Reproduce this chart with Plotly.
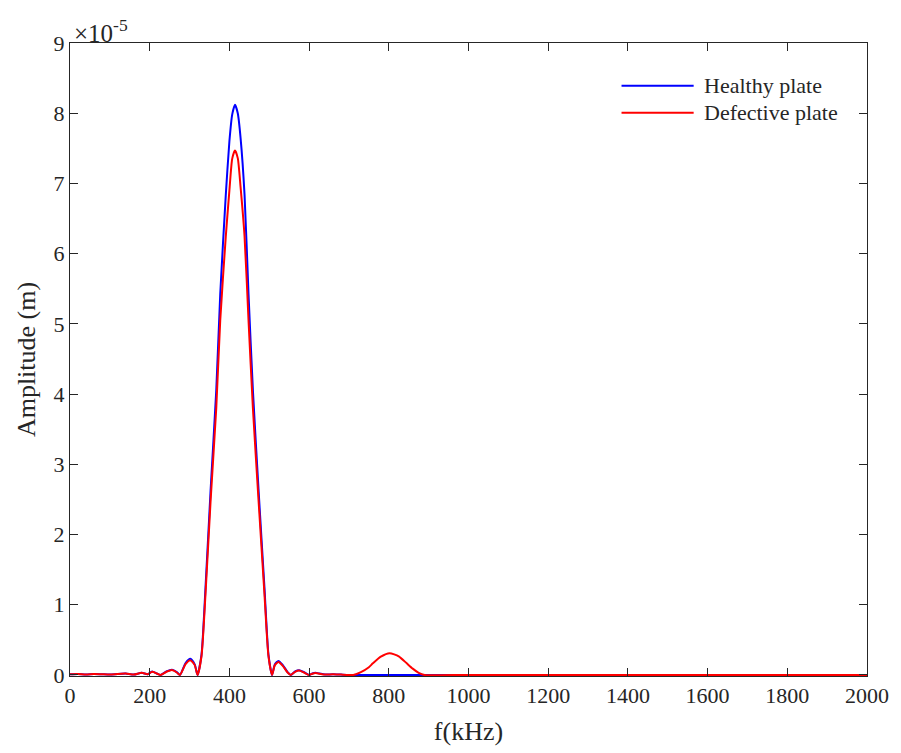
import plotly.graph_objects as go

# Frequency (kHz) and amplitude (x 1e-5 m)
f_healthy = [0, 20, 40, 60, 80, 100, 120, 140, 160, 180, 195, 206, 218, 227, 242, 256, 268, 276,
             290, 302, 313, 320, 330, 340, 353, 367, 377, 391, 400, 407, 414, 421, 428, 438, 448,
             459, 473, 488, 498, 507, 514, 523, 534, 546, 554, 565, 575, 587, 600, 608, 616, 626,
             640, 660, 680, 700, 1000, 1500, 2000]
amp_healthy = [0.01, 0.015, 0.005, 0.015, 0.01, 0.005, 0.015, 0.02, 0.005, 0.03, 0.01, 0.05, 0.02,
               0.0, 0.05, 0.075, 0.04, 0.0, 0.17, 0.23, 0.15, 0.0, 0.29, 1.24, 2.65, 4.05, 5.42,
               6.84, 7.6, 7.98, 8.12, 8.0, 7.65, 6.84, 5.42, 4.05, 2.65, 1.24, 0.29, 0.0, 0.15,
               0.20, 0.14, 0.04, 0.0, 0.05, 0.067, 0.04, 0.0, 0.02, 0.03, 0.02, 0.005, 0.01,
               0.005, 0.0, 0.0, 0.0, 0.0]

f_defective = [0, 20, 40, 60, 80, 100, 120, 140, 160, 180, 195, 206, 218, 227, 242, 256, 268, 276,
               290, 302, 313, 320, 330, 340, 353, 367, 377, 391, 400, 407, 414, 421, 428, 438, 448,
               459, 473, 488, 498, 507, 514, 523, 534, 546, 554, 565, 575, 587, 600, 608, 616, 626,
               640, 660, 680, 700, 711, 730, 750, 760, 780, 802, 825, 845, 860, 875, 890, 1000,
               1500, 2000]
amp_defective = [0.01, 0.015, 0.005, 0.015, 0.01, 0.005, 0.015, 0.02, 0.005, 0.03, 0.01, 0.045,
                 0.02, 0.0, 0.045, 0.07, 0.035, 0.0, 0.155, 0.21, 0.14, 0.0, 0.27, 1.15, 2.5, 3.8,
                 5.05, 6.25, 6.9, 7.35, 7.47, 7.36, 6.95, 6.25, 5.05, 3.8, 2.5, 1.15, 0.27, 0.0,
                 0.14, 0.185, 0.13, 0.035, 0.0, 0.045, 0.062, 0.035, 0.0, 0.018, 0.028, 0.018,
                 0.005, 0.01, 0.005, 0.0, 0.0, 0.04, 0.11, 0.165, 0.26, 0.31, 0.265, 0.165, 0.09,
                 0.03, 0.0, 0.0, 0.0, 0.0]

x_ticks = [0, 200, 400, 600, 800, 1000, 1200, 1400, 1600, 1800, 2000]
y_ticks = [0, 1, 2, 3, 4, 5, 6, 7, 8, 9]

FONT = "Liberation Serif"
AX = "#262626"

fig = go.Figure()
fig.add_trace(go.Scatter(x=f_healthy, y=amp_healthy, mode="lines", name="Healthy plate",
                         line=dict(color="#0000ff", width=2, shape="spline", smoothing=0.6)))
fig.add_trace(go.Scatter(x=f_defective, y=amp_defective, mode="lines", name="Defective plate",
                         line=dict(color="#ff0000", width=2, shape="spline", smoothing=0.6)))

axis_common = dict(showline=True, linecolor=AX, linewidth=1, mirror="ticks", ticks="inside",
                   ticklen=8, tickcolor=AX, tickwidth=1, showgrid=False, zeroline=False,
                   tickfont=dict(family=FONT, size=22, color=AX))

fig.update_xaxes(range=[0, 2000], tickvals=x_ticks, ticktext=[str(v) for v in x_ticks],
                 title=dict(text="f(kHz)", font=dict(family=FONT, size=26, color=AX), standoff=14),
                 **axis_common)
fig.update_yaxes(range=[-0.015, 9], tickvals=y_ticks, ticktext=[str(v) for v in y_ticks],
                 title=dict(text="Amplitude (m)", font=dict(family=FONT, size=26, color=AX),
                            standoff=10),
                 **axis_common)

# Custom MATLAB-style legend
legend_items = [("Healthy plate", "#0000ff"), ("Defective plate", "#ff0000")]
for i, (label, col) in enumerate(legend_items):
    yy = 0.9325 - i * 0.0426
    fig.add_shape(type="line", xref="paper", yref="paper", x0=0.692, x1=0.7825, y0=yy, y1=yy,
                  line=dict(color=col, width=2))
    fig.add_annotation(xref="paper", yref="paper", x=0.793, y=yy, xanchor="left",
                       yanchor="middle", text=label, showarrow=False,
                       font=dict(family=FONT, size=22, color=AX))

fig.add_annotation(xref="paper", yref="paper", x=0.0, y=1.0, xanchor="left", yanchor="bottom",
                   text="\u00d710<sup>-5</sup>", showarrow=False, yshift=-6, xshift=2,
                   font=dict(family=FONT, size=25, color=AX))

fig.update_layout(width=901, height=753, margin=dict(l=70, r=26, t=43, b=76),
                  paper_bgcolor="white", plot_bgcolor="white", showlegend=False,
                  font=dict(family=FONT, color=AX))

fig.write_html("out.html")
